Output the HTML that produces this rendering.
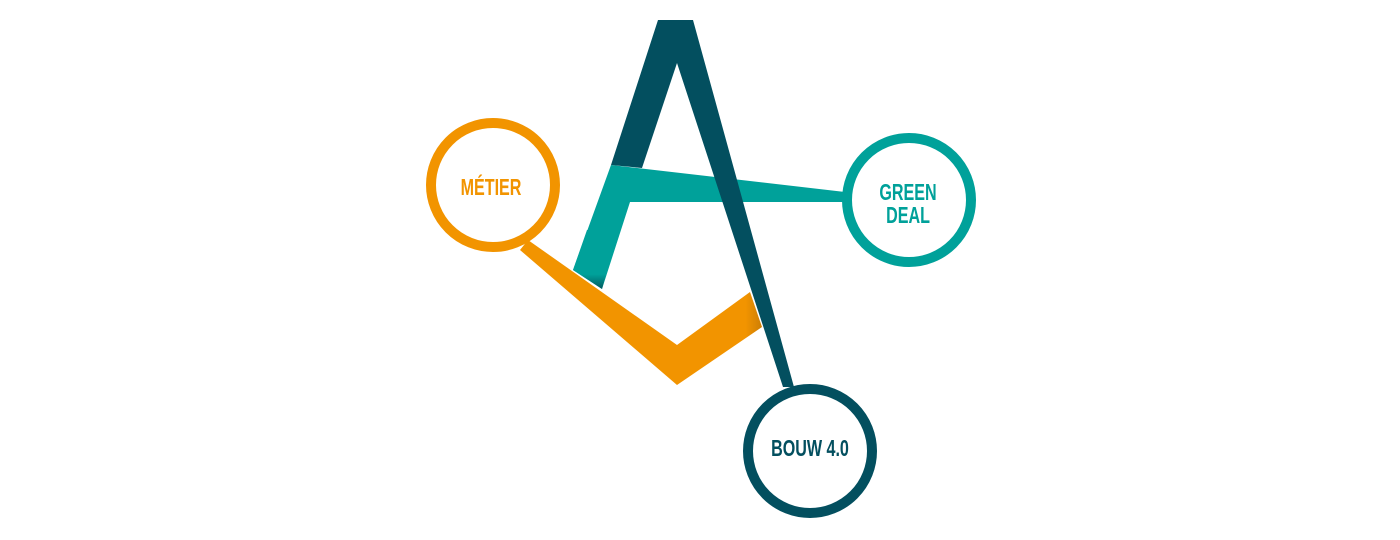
<!DOCTYPE html>
<html><head><meta charset="utf-8"><style>
html,body{margin:0;padding:0;background:#fff;width:1400px;height:540px;overflow:hidden}
text{font-family:"Liberation Sans Narrow","Liberation Sans",sans-serif;font-weight:bold}
</style></head><body>
<svg width="1400" height="540" viewBox="0 0 1400 540" xmlns="http://www.w3.org/2000/svg">
<defs>
<linearGradient id="tg" x1="0" y1="0" x2="0" y2="1" gradientUnits="objectBoundingBox">
<stop offset="0.75" stop-color="#00a19a"/><stop offset="1" stop-color="#03595e"/></linearGradient>
<linearGradient id="og" x1="700" y1="0" x2="765" y2="0" gradientUnits="userSpaceOnUse">
<stop offset="0.7" stop-color="#f29400"/><stop offset="1" stop-color="#c67a06"/></linearGradient>
</defs>
<polygon points="611,165 845,192 845,202 630,202 602,289 573,270" fill="#00a19a"/>
<polygon points="587,230 618,230 602,289 573,270" fill="url(#tg)"/>
<polygon points="528,240 677,345 750,292 762,327 677,385 520,250" fill="url(#og)"/>
<polygon points="658,20 693,20 794,387 783,387 677,63 642,168 611,165" fill="#034f5f"/>
<circle cx="493" cy="185" r="62" fill="#fff" stroke="#f29400" stroke-width="10"/>
<circle cx="909" cy="200" r="62" fill="#fff" stroke="#00a19a" stroke-width="10"/>
<circle cx="810" cy="451" r="62" fill="#fff" stroke="#034f5f" stroke-width="10"/>
<text x="491" y="195" text-anchor="middle" font-size="23" fill="#f29400" transform="translate(491 0) scale(0.7 1) translate(-491 0)">MÉTIER</text>
<text x="908" y="200" text-anchor="middle" font-size="23" fill="#00a19a" transform="translate(908 0) scale(0.7 1) translate(-908 0)">GREEN</text>
<text x="908" y="223" text-anchor="middle" font-size="23" fill="#00a19a" transform="translate(908 0) scale(0.7 1) translate(-908 0)">DEAL</text>
<text x="810" y="456" text-anchor="middle" font-size="23" fill="#034f5f" transform="translate(810 0) scale(0.7 1) translate(-810 0)">BOUW 4.0</text>
</svg>
</body></html>
